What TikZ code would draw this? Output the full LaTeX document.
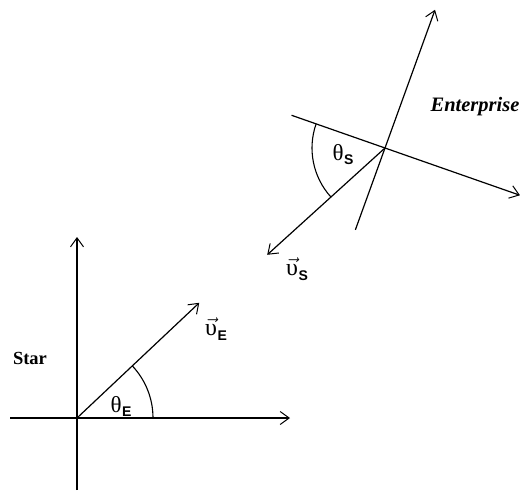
\documentclass[tikz,border=0pt]{standalone}
\usepackage{fontspec}
\setmainfont{Liberation Serif}
\setsansfont{Liberation Sans}
\usetikzlibrary{arrows.meta,calc}
\newcommand{\myth}[1]{\fontsize{23}{25}\selectfont θ\kern0.5pt\raisebox{-4pt}{\fontsize{14}{16}\selectfont\sffamily\bfseries #1}}
\newcommand{\myvel}[1]{\fontsize{24}{26}\selectfont$\vec{\mbox{υ}}$\kern0.5pt\raisebox{-5pt}{\fontsize{14}{16}\selectfont\sffamily\bfseries #1}}
\begin{document}
\begin{tikzpicture}[x=1pt,y=1pt,
  ax/.style={line width=1.2pt,-{Straight Barb[length=9pt,width=13pt,line width=1pt]}},
  ln/.style={line width=1.2pt},
  arcline/.style={line width=1.1pt},
  lbl/.style={inner sep=0pt}]
\useasboundingbox (0,0) rectangle (522,491);
% Star frame
\coordinate (O) at (77,73);
\coordinate (xl) at (10,73);
\coordinate (xr) at (290,73);
\coordinate (yb) at (77,1);
\coordinate (yt) at (77,254);
\coordinate (vE) at ($(O)+(43.3:168)$);
\draw[ln] (xl) -- (O);
\draw[ax] (O) -- (xr);
\draw[ln] (yb) -- (O);
\draw[ax] (O) -- (yt);
\draw[ax] (O) -- (vE);
\draw[arcline] ($(O)+(0:76)$) arc[start angle=0,end angle=43.3,radius=76];
\node[lbl,font=\fontsize{18.5}{20}\selectfont\bfseries] (star) at (30,133) {Star};
\node[lbl] (thE) at (121,85) {\myth{E}};
\node[lbl] (lvE) at (216,162) {\myvel{E}};
% Enterprise frame
\coordinate (C) at (385,343);
\coordinate (al) at ($(C)+(160.7:99)$);
\coordinate (ar) at ($(C)+(-19.3:143)$);
\coordinate (bb) at ($(C)+(250.1:87)$);
\coordinate (bt) at ($(C)+(70.1:147)$);
\coordinate (vS) at ($(C)+(222.2:159)$);
\draw[ln] (al) -- (C);
\draw[ax] (C) -- (ar);
\draw[ln] (bb) -- (C);
\draw[ax] (C) -- (bt);
\draw[ax] (C) -- (vS);
\draw[arcline] ($(C)+(160.7:73)$) arc[start angle=160.7,end angle=222.2,radius=73];
\node[lbl,font=\fontsize{20.5}{22}\selectfont\bfseries\itshape] (ent) at (475,384) {Enterprise};
\node[lbl] (thS) at (343,336) {\myth{S}};
\node[lbl] (lvS) at (297,222) {\myvel{S}};
\end{tikzpicture}
\end{document}
